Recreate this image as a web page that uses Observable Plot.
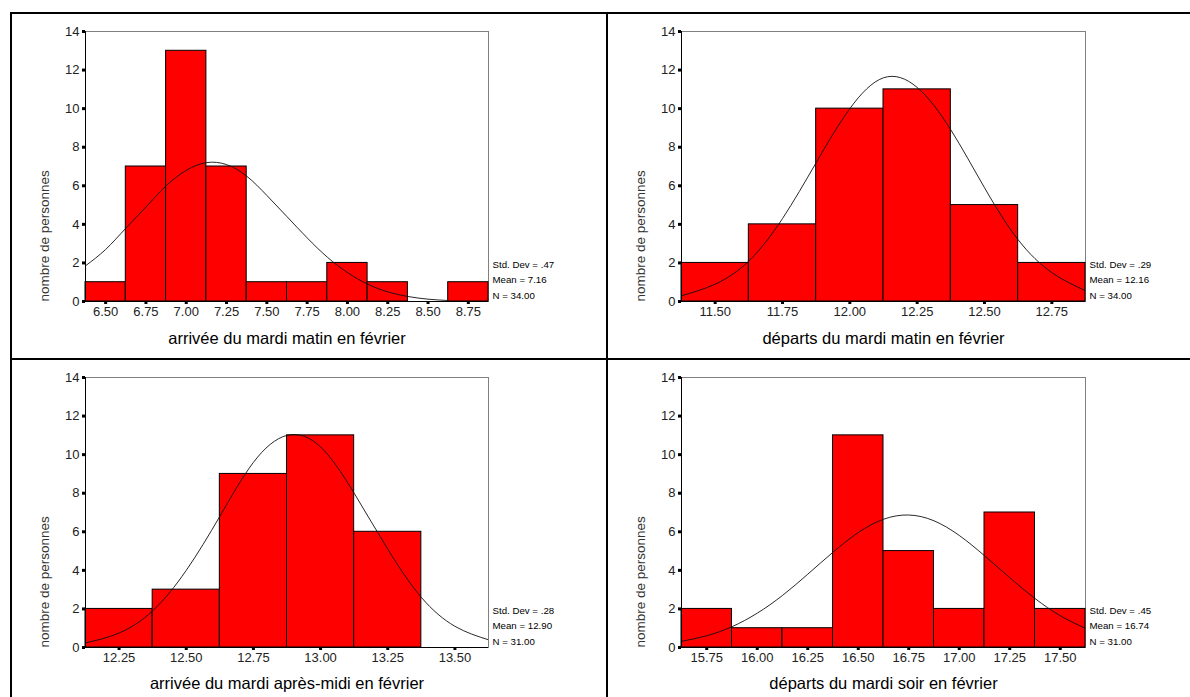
<!DOCTYPE html>
<html><head><meta charset="utf-8">
<script src="https://cdn.jsdelivr.net/npm/d3@7"></script>
<script src="https://cdn.jsdelivr.net/npm/@observablehq/plot@0.6"></script>
<style>
html,body{margin:0;padding:0;background:#fff;overflow:hidden;width:1190px;height:697px;}
#root{position:relative;width:1190px;height:697px;}
.cell{position:absolute;box-sizing:border-box;border-left:2px solid #000;border-top:2px solid #000;}
.cell svg{display:block;}
</style></head><body><div id="root"></div>
<script>
// ---- data ----
const binWidth = 0.25;
const yTicks = [0, 2, 4, 6, 8, 10, 12, 14];
const yLabel = "nombre de personnes";

// arrivée du mardi matin
const arrMatinBins = [6.50, 6.75, 7.00, 7.25, 7.50, 7.75, 8.00, 8.25, 8.50, 8.75];
const arrMatinCounts = [1, 7, 13, 7, 1, 1, 2, 1, 0, 1];
const arrMatinCurveX = [6.375, 6.5, 6.625, 6.75, 6.875, 7.0, 7.125, 7.25, 7.375, 7.5, 7.625, 7.75, 7.875, 8.0, 8.125, 8.25, 8.375, 8.5, 8.625];
const arrMatinCurveY = [1.85, 2.7, 3.8, 4.9, 6.0, 6.8, 7.2, 7.1, 6.5, 5.5, 4.4, 3.3, 2.3, 1.5, 0.9, 0.5, 0.26, 0.12, 0.05];
const arrMatinStats = ["Std. Dev = .47", "Mean = 7.16", "N = 34.00"];
const arrMatinTitle = "arrivée du mardi matin en février";

// départs du mardi matin
const depMatinBins = [11.50, 11.75, 12.00, 12.25, 12.50, 12.75];
const depMatinCounts = [2, 4, 10, 11, 5, 2];
const depMatinCurveX = [11.375, 11.5, 11.625, 11.75, 11.875, 12.0, 12.125, 12.25, 12.375, 12.5, 12.625, 12.75, 12.875];
const depMatinCurveY = [0.3, 0.9, 2.1, 4.3, 7.2, 10.0, 11.6, 11.1, 8.9, 5.9, 3.2, 1.5, 0.56];
const depMatinStats = ["Std. Dev = .29", "Mean = 12.16", "N = 34.00"];
const depMatinTitle = "départs du mardi matin en février";

// arrivée du mardi après-midi
const arrApremBins = [12.25, 12.50, 12.75, 13.00, 13.25, 13.50];
const arrApremCounts = [2, 3, 9, 11, 6, 0];
const arrApremCurveX = [12.125, 12.25, 12.375, 12.5, 12.625, 12.75, 12.875, 13.0, 13.125, 13.25, 13.375, 13.5, 13.625];
const arrApremCurveY = [0.24, 0.75, 1.9, 4.0, 6.8, 9.6, 11.0, 10.4, 8.0, 5.1, 2.6, 1.1, 0.4];
const arrApremStats = ["Std. Dev = .28", "Mean = 12.90", "N = 31.00"];
const arrApremTitle = "arrivée du mardi après-midi en février";

// départs du mardi soir
const depSoirBins = [15.75, 16.00, 16.25, 16.50, 16.75, 17.00, 17.25, 17.50];
const depSoirCounts = [2, 1, 1, 11, 5, 2, 7, 2];
const depSoirCurveX = [15.625, 15.75, 15.875, 16.0, 16.125, 16.25, 16.375, 16.5, 16.625, 16.75, 16.875, 17.0, 17.125, 17.25, 17.375, 17.5, 17.625];
const depSoirCurveY = [0.32, 0.61, 1.08, 1.78, 2.7, 3.8, 4.94, 5.96, 6.65, 6.87, 6.57, 5.81, 4.76, 3.62, 2.54, 1.65, 0.99];
const depSoirStats = ["Std. Dev = .45", "Mean = 16.74", "N = 31.00"];
const depSoirTitle = "départs du mardi soir en février";

// ---- drawing ----
function panel(bins, counts, curveX, curveY, stats, title, width, height, marginRight, marginBottom, titleDy) {
  const xDomain = [bins[0] - binWidth / 2, bins[bins.length - 1] + binWidth / 2];
  const bars = bins.map((c, i) => ({x1: c - binWidth / 2, x2: c + binWidth / 2, y1: 0, n: counts[i]})).filter(d => d.n > 0);
  const curve = curveX.map((x, i) => ({x, y: curveY[i]}));
  return Plot.plot({
    width, height,
    marginLeft: 73, marginRight, marginTop: 17, marginBottom,
    x: {domain: xDomain},
    y: {domain: [0, 14]},
    style: {background: "white", fontFamily: "Arial, 'Liberation Sans', sans-serif", fontSize: "13px", color: "#222", overflow: "visible"},
    marks: [
      Plot.frame({stroke: "#808080"}),
      Plot.rect(bars, {x1: "x1", x2: "x2", y1: "y1", y2: "n", fill: "#ff0000", stroke: "#000", strokeWidth: 1}),
      Plot.line(curve, {x: "x", y: "y", curve: "natural", stroke: "#111", strokeWidth: 0.9, clip: true}),
      Plot.ruleY([0], {stroke: "#000"}),
      Plot.ruleX([xDomain[0]], {stroke: "#000"}),
      Plot.axisX(bins, {tickSize: 3, tickPadding: 2, strokeWidth: 3, stroke: "#000", fill: "#222", tickFormat: d3.format(".2f"), label: null, fontSize: 13}),
      Plot.axisY(yTicks, {tickSize: 3, tickPadding: 3, strokeWidth: 3, stroke: "#000", fill: "#222", label: null, fontSize: 13}),
      Plot.text([stats.join("\n")], {frameAnchor: "bottom-right", textAnchor: "start", lineAnchor: "bottom", dx: 4, dy: -3, lineHeight: 1.58, fontSize: 9.7, fill: "#000"}),
      Plot.text([title], {frameAnchor: "bottom", dy: titleDy, fontSize: 16.5, fill: "#000"}),
      Plot.text([yLabel], {frameAnchor: "bottom-left", rotate: -90, textAnchor: "start", dx: -37, fontSize: 13.5, fill: "#333"})
    ]
  });
}

const root = document.getElementById("root");
function addCell(left, top, w, h, svg) {
  const d = document.createElement("div");
  d.className = "cell";
  d.style.left = left + "px"; d.style.top = top + "px";
  d.style.width = w + "px"; d.style.height = h + "px";
  d.appendChild(svg);
  root.appendChild(d);
}
addCell(10, 12, 596, 346, panel(arrMatinBins, arrMatinCounts, arrMatinCurveX, arrMatinCurveY, arrMatinStats, arrMatinTitle, 594, 344, 118, 57, 42));
addCell(606, 12, 584, 346, panel(depMatinBins, depMatinCounts, depMatinCurveX, depMatinCurveY, depMatinStats, depMatinTitle, 582, 344, 105, 57, 42));
addCell(10, 358, 596, 339, panel(arrApremBins, arrApremCounts, arrApremCurveX, arrApremCurveY, arrApremStats, arrApremTitle, 594, 337, 118, 50, 41));
addCell(606, 358, 584, 339, panel(depSoirBins, depSoirCounts, depSoirCurveX, depSoirCurveY, depSoirStats, depSoirTitle, 582, 337, 105, 50, 41));
</script></body></html>
